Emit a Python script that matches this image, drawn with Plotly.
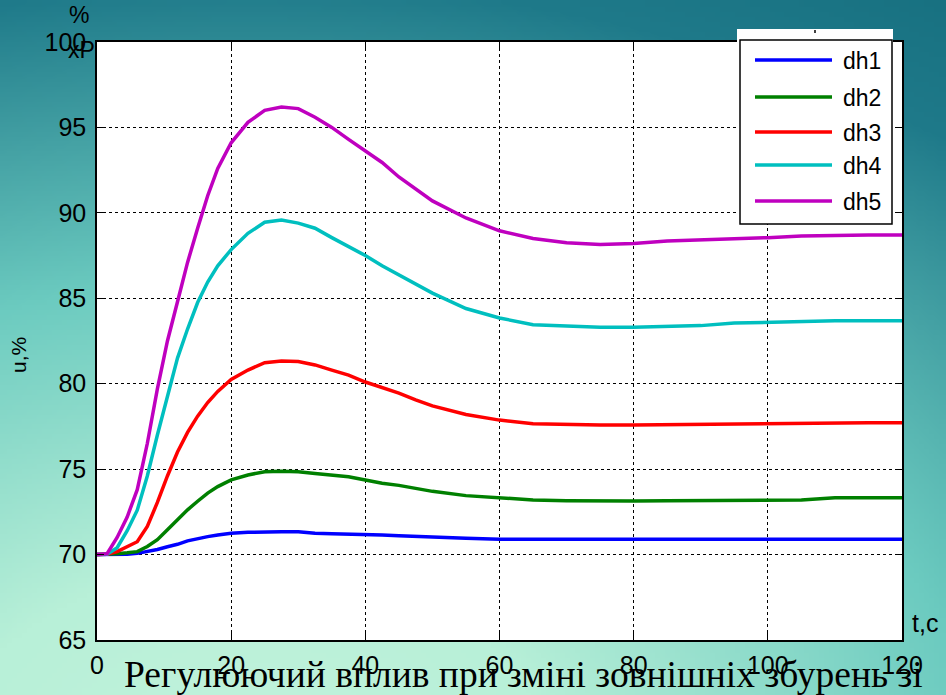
import base64, struct, zlib
import numpy as np
import plotly.graph_objects as go

# ---------------- data ----------------
t = [0, 1.5, 3, 4.5, 6, 7.5, 9, 10.5, 12, 13.5, 15, 16.5, 18, 20, 22.5, 25, 27.5, 30,
     32.5, 35, 37.5, 40, 42.5, 45, 47.5, 50, 55, 60, 65, 70, 75, 80, 85, 90, 95, 100,
     105, 110, 115, 120]

dh1 = [70, 70, 70, 70.02, 70.07, 70.17, 70.3, 70.46, 70.6, 70.8, 70.95, 71.05, 71.15,
       71.25, 71.3, 71.34, 71.34, 71.34, 71.25, 71.22, 71.2, 71.2, 71.15, 71.1, 71.05,
       71.0, 70.95, 70.9, 70.9, 70.9, 70.9, 70.9, 70.9, 70.9, 70.9, 70.9, 70.9, 70.9,
       70.9, 70.9]
dh2 = [70, 70, 70.05, 70.1, 70.17, 70.47, 70.87, 71.45, 72.05, 72.62, 73.12, 73.6, 73.98,
       74.37, 74.66, 74.85, 74.87, 74.85, 74.75, 74.65, 74.55, 74.36, 74.17, 74.05, 73.85,
       73.7, 73.45, 73.3, 73.2, 73.15, 73.13, 73.13, 73.15, 73.17, 73.18, 73.19, 73.2,
       73.33, 73.33, 73.33]
dh3 = [70, 70.02, 70.17, 70.45, 70.75, 71.65, 73.05, 74.6, 76.0, 77.15, 78.1, 78.9, 79.55,
       80.25, 80.8, 81.23, 81.33, 81.3, 81.1, 80.8, 80.5, 80.1, 79.8, 79.45, 79.05, 78.7,
       78.2, 77.87, 77.66, 77.6, 77.58, 77.58, 77.6, 77.63, 77.68, 77.7, 77.72, 77.72,
       77.72, 77.72]
dh4 = [70, 70.02, 70.4, 71.4, 72.6, 74.6, 77.0, 79.3, 81.5, 83.2, 84.75, 85.95, 86.9,
       87.85, 88.8, 89.45, 89.58, 89.4, 89.1, 88.55, 88.05, 87.5, 86.9, 86.35, 85.85,
       85.3, 84.4, 83.85, 83.45, 83.35, 83.3, 83.3, 83.33, 83.4, 83.55, 83.6, 83.67,
       83.68, 83.68, 83.68]
dh5 = [70, 70.05, 71.0, 72.2, 73.8, 76.5, 79.7, 82.5, 84.8, 87.1, 89.1, 91.0, 92.6, 94.1,
       95.3, 96.0, 96.2, 96.1, 95.6, 95.0, 94.3, 93.6, 92.95, 92.1, 91.4, 90.7, 89.7,
       88.95, 88.5, 88.25, 88.15, 88.2, 88.35, 88.4, 88.5, 88.55, 88.65, 88.7, 88.7, 88.7]

series_names = ["dh1", "dh2", "dh3", "dh4", "dh5"]
series_values = [dh1, dh2, dh3, dh4, dh5]
series_colors = ["#0000ff", "#008000", "#ff0000", "#00bfbf", "#bf00bf"]

x_ticks = [0, 20, 40, 60, 80, 100, 120]
y_ticks = [65, 70, 75, 80, 85, 90, 95, 100]

caption = "Регулюючий вплив при зміні зовнішніх збурень зі"

# ---------------- geometry ----------------
W, H = 946, 695
L, R, T, B = 97, 902, 42, 640
PW, PH = R - L, B - T


def px(x):
    return (x - L) / PW


def py(y):
    return (B - y) / PH


# ---------------- background gradient image ----------------
def make_bg():
    w, h = 190, 140
    xs = (np.arange(w) + 0.5) * W / w
    ys = (np.arange(h) + 0.5) * H / h
    X, Y = np.meshgrid(xs, ys)
    d = np.sqrt(((X - 250) / 1200) ** 2 + ((Y - 760) / 800) ** 2)
    stops = [0.0, 0.25, 0.6, 0.97, 1.2]
    cols = np.array([[0xc2, 0xf3, 0xdc], [0xb8, 0xf0, 0xd8], [0x6c, 0xcb, 0xc0],
                     [0x1f, 0x7a, 0x8a], [0x14, 0x6c, 0x7c]], dtype=float)
    img = np.zeros((h, w, 3))
    for c in range(3):
        img[..., c] = np.interp(d, stops, cols[:, c])
    img = img.clip(0, 255).astype(np.uint8)
    raw = b"".join(b"\x00" + row.tobytes() for row in img)

    def chunk(tag, data):
        c = struct.pack(">I", len(data)) + tag + data
        return c + struct.pack(">I", zlib.crc32(tag + data) & 0xffffffff)

    png = b"\x89PNG\r\n\x1a\n"
    png += chunk(b"IHDR", struct.pack(">IIBBBBB", w, h, 8, 2, 0, 0, 0))
    png += chunk(b"IDAT", zlib.compress(raw, 9))
    png += chunk(b"IEND", b"")
    return "data:image/png;base64," + base64.b64encode(png).decode()


fig = go.Figure()

for name, vals, col in zip(series_names, series_values, series_colors):
    fig.add_trace(go.Scatter(x=t, y=vals, mode="lines", name=name,
                             line=dict(color=col, width=3.5), showlegend=False))

sans = "Liberation Sans, Arial, sans-serif"
tick_font = dict(family=sans, size=25, color="#000000")

fig.update_layout(
    width=W, height=H,
    margin=dict(l=L, r=W - R, t=T, b=H - B, pad=0),
    paper_bgcolor="#6cc0bc",
    plot_bgcolor="rgba(0,0,0,0)",
    showlegend=False,
    xaxis=dict(range=[0, 120], tickvals=x_ticks, ticktext=[str(v) for v in x_ticks],
               showgrid=True, gridcolor="#000000", gridwidth=1, griddash="3px,3px",
               zeroline=False, showline=True, linecolor="#000000", linewidth=1.5,
               mirror="allticks", ticks="inside", ticklen=7, tickcolor="#000000",
               tickfont=tick_font, ticklabelstandoff=2, fixedrange=True),
    yaxis=dict(range=[65, 100], tickvals=y_ticks, ticktext=[str(v) for v in y_ticks],
               showgrid=True, gridcolor="#000000", gridwidth=1, griddash="3px,3px",
               zeroline=False, showline=True, linecolor="#000000", linewidth=1.5,
               mirror="allticks", ticks="inside", ticklen=7, tickcolor="#000000",
               tickfont=tick_font, ticklabelstandoff=4, fixedrange=True),
    images=[dict(source=make_bg(), xref="paper", yref="paper",
                 x=px(0), y=py(0), sizex=W / PW, sizey=H / PH,
                 xanchor="left", yanchor="top", sizing="stretch", layer="below")],
)

shapes = [
    # white plot area
    dict(type="rect", xref="paper", yref="paper", x0=0, x1=1, y0=0, y1=1,
         fillcolor="#ffffff", line=dict(width=0), layer="below"),
    # legend white backing
    dict(type="rect", xref="paper", yref="paper", x0=px(737), x1=px(893),
         y0=py(224), y1=py(29), fillcolor="#ffffff", line=dict(width=0), layer="above"),
    # legend box
    dict(type="rect", xref="paper", yref="paper", x0=px(740), x1=px(892),
         y0=py(224), y1=py(40), fillcolor="#ffffff",
         line=dict(color="#000000", width=1.5), layer="above"),
    dict(type="line", xref="paper", yref="paper", x0=px(815), x1=px(815),
         y0=py(30), y1=py(33), line=dict(color="#000000", width=1.5), layer="above"),
]
legend_rows = [60, 97, 132, 165, 201]
annotations = []
for name, col, yy in zip(series_names, series_colors, legend_rows):
    shapes.append(dict(type="line", xref="paper", yref="paper", x0=px(755), x1=px(832),
                       y0=py(yy), y1=py(yy), line=dict(color=col, width=3.5), layer="above"))
    annotations.append(dict(text=name, xref="paper", yref="paper", x=px(841), y=py(yy + 1),
                            xanchor="left", yanchor="middle", showarrow=False,
                            font=dict(family=sans, size=23, color="#000000")))

annotations += [
    dict(text="u,%", xref="paper", yref="paper", x=px(18), y=py(355), textangle=-90,
         xanchor="center", yanchor="middle", showarrow=False,
         font=dict(family=sans, size=21, color="#000000")),
    dict(text="%", xref="paper", yref="paper", x=px(79), y=py(15),
         xanchor="center", yanchor="middle", showarrow=False,
         font=dict(family=sans, size=23, color="#000000")),
    dict(text="хР", xref="paper", yref="paper", x=px(97), y=py(50),
         xanchor="right", yanchor="middle", showarrow=False,
         font=dict(family=sans, size=23, color="#000000")),
    dict(text="t,c", xref="paper", yref="paper", x=px(925), y=py(623),
         xanchor="center", yanchor="middle", showarrow=False,
         font=dict(family=sans, size=25, color="#000000")),
    dict(text=caption, xref="paper", yref="paper", x=px(523), y=py(697),
         xanchor="center", yanchor="bottom", showarrow=False,
         font=dict(family="Liberation Serif, Times New Roman, serif", size=37.5,
                   color="#000000")),
]

fig.update_layout(shapes=shapes, annotations=annotations)
fig.write_html("out.html", config={"displayModeBar": False})
